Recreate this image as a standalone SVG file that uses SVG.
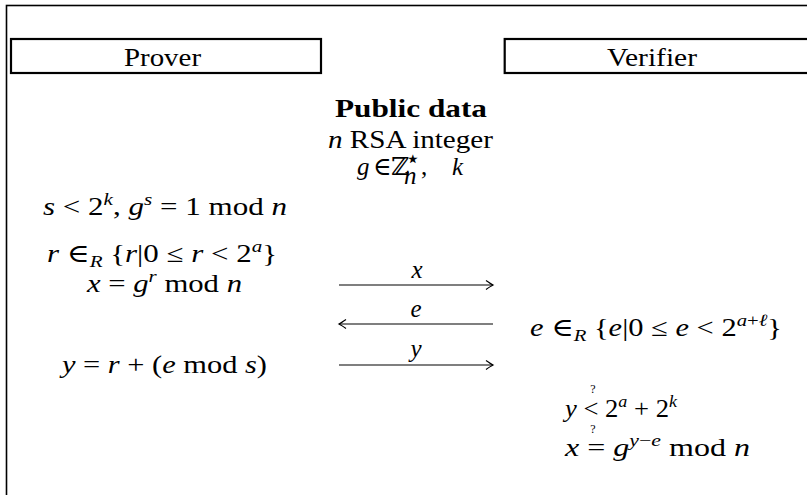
<svg xmlns="http://www.w3.org/2000/svg" width="807" height="495" viewBox="0 0 807 495">
<style>
text{font-family:"Liberation Serif","DejaVu Serif",serif;font-size:25px;fill:#000}
.i{font-style:italic}
.sup{font-size:17px}
.q{font-size:12px}
.box{fill:none;stroke:#000;stroke-width:2.2}
.conn{stroke:#000;stroke-width:1.2;fill:none}
</style>
<defs>
<marker id="head" viewBox="-8 -5 10 10" refX="0" refY="0" markerWidth="10" markerHeight="10" markerUnits="userSpaceOnUse" orient="auto-start-reverse">
<path d="M-7,-4.5 Q-2,-1 0,0 Q-2,1 -7,4.5" fill="none" stroke="#000" stroke-width="1.2"/>
</marker>
</defs>
<rect width="807" height="495" fill="#fff"/>
<rect id="frame" x="6.5" y="5.5" width="900" height="600" fill="none" stroke="#000" stroke-width="1.6"/>

<g id="prover">
<rect class="box" x="11" y="39" width="310" height="34"/>
<text x="124" y="66" textLength="77" lengthAdjust="spacingAndGlyphs">Prover</text>
</g>
<g id="verifier">
<rect class="box" x="504.7" y="39" width="400" height="34"/>
<text x="607" y="66" textLength="90" lengthAdjust="spacingAndGlyphs">Verifier</text>
</g>

<g id="public-data">
<text x="335" y="117" font-weight="bold" textLength="152" lengthAdjust="spacingAndGlyphs">Public data</text>
<text x="328" y="148" textLength="165" lengthAdjust="spacingAndGlyphs"><tspan class="i">n</tspan> RSA integer</text>
<text x="357" y="175" class="i">g</text>
<text x="373" y="175" font-family="DejaVu Serif" font-size="18">∈</text>
<text x="391" y="175" font-family="DejaVu Serif" font-size="18">ℤ</text>
<text x="405" y="167" font-family="DejaVu Serif" font-size="10">⋆</text>
<text x="404" y="184" font-size="13" class="i">n</text>
<text x="421" y="175">,</text>
<text x="452" y="175" class="i">k</text>
</g>

<g id="prover-steps">
<text x="43" y="215" textLength="244" lengthAdjust="spacingAndGlyphs"><tspan class="i">s</tspan> &lt; 2<tspan class="sup i" dy="-10">k</tspan><tspan dy="10">,  </tspan><tspan class="i">g</tspan><tspan class="sup i" dy="-10">s</tspan><tspan dy="10"> = 1 mod </tspan><tspan class="i">n</tspan></text>
<text x="47" y="262" textLength="230" lengthAdjust="spacingAndGlyphs"><tspan class="i">r</tspan> ∈<tspan class="sup i" dy="5">R</tspan><tspan dy="-5"> {</tspan><tspan class="i">r</tspan>|0 ≤ <tspan class="i">r</tspan> &lt; 2<tspan class="sup i" dy="-10">a</tspan><tspan dy="10">}</tspan></text>
<text x="87" y="292" textLength="155" lengthAdjust="spacingAndGlyphs"><tspan class="i">x</tspan> = <tspan class="i">g</tspan><tspan class="sup i" dy="-10">r</tspan><tspan dy="10"> mod </tspan><tspan class="i">n</tspan></text>
<text x="62" y="373" textLength="205" lengthAdjust="spacingAndGlyphs"><tspan class="i">y</tspan> = <tspan class="i">r</tspan> + (<tspan class="i">e</tspan> mod <tspan class="i">s</tspan>)</text>
</g>

<g id="verifier-steps">
<text x="530" y="336" textLength="252" lengthAdjust="spacingAndGlyphs"><tspan class="i">e</tspan> ∈<tspan class="sup i" dy="5">R</tspan><tspan dy="-5"> {</tspan><tspan class="i">e</tspan>|0 ≤ <tspan class="i">e</tspan> &lt; 2<tspan class="sup" dy="-10"><tspan class="i">a</tspan>+<tspan class="i">ℓ</tspan></tspan><tspan dy="10">}</tspan></text>
<text x="565" y="417" textLength="112" lengthAdjust="spacingAndGlyphs"><tspan class="i">y</tspan> &lt; 2<tspan class="sup i" dy="-10">a</tspan><tspan dy="10"> + 2</tspan><tspan class="sup i" dy="-10">k</tspan></text>
<text x="593" y="393" class="q" text-anchor="middle">?</text>
<text x="565" y="456" textLength="185" lengthAdjust="spacingAndGlyphs"><tspan class="i">x</tspan> = <tspan class="i">g</tspan><tspan class="sup" dy="-10"><tspan class="i">y</tspan>−<tspan class="i">e</tspan></tspan><tspan dy="10"> mod </tspan><tspan class="i">n</tspan></text>
<text x="593" y="433" class="q" text-anchor="middle">?</text>
</g>

<g id="connectors">
<line class="conn" x1="339" y1="285" x2="493" y2="285" marker-end="url(#head)"/>
<line class="conn" x1="339" y1="324" x2="493" y2="324" marker-start="url(#head)"/>
<line class="conn" x1="339" y1="365" x2="493" y2="365" marker-end="url(#head)"/>
</g>
<g id="connector-labels">
<text x="417" y="278" class="i" text-anchor="middle">x</text>
<text x="416" y="317" class="i" text-anchor="middle">e</text>
<text x="416" y="357" class="i" text-anchor="middle">y</text>
</g>
</svg>
